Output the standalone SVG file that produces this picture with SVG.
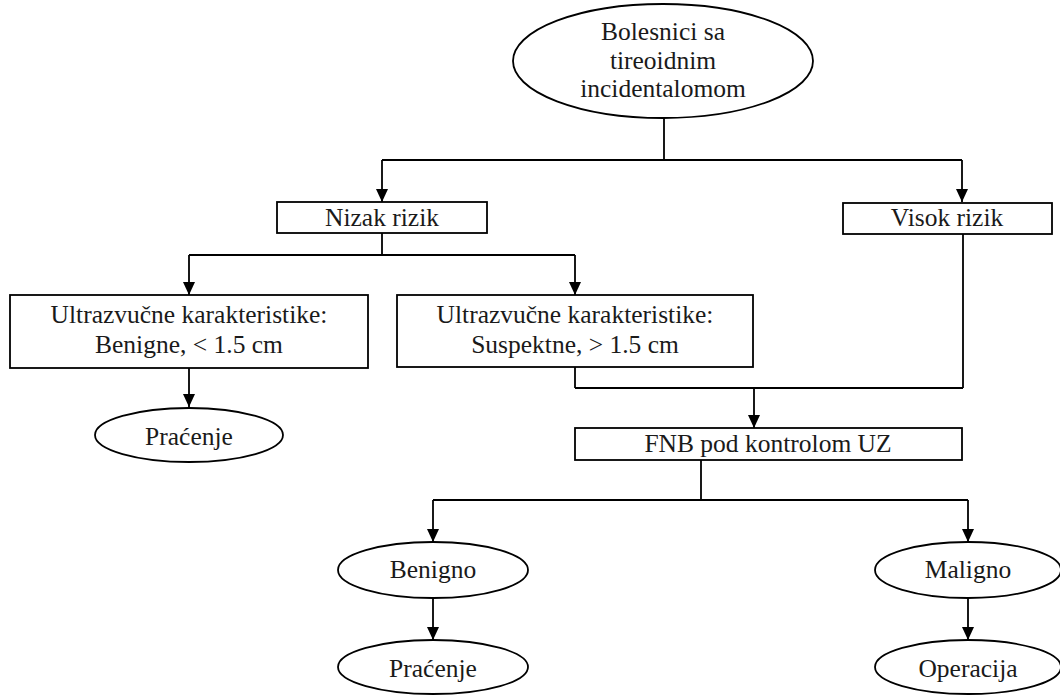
<svg xmlns="http://www.w3.org/2000/svg" width="1060" height="696" viewBox="0 0 1060 696">
<defs>
<marker id="arr" markerWidth="13" markerHeight="12" refX="13" refY="6" orient="auto" markerUnits="userSpaceOnUse" viewBox="0 0 13 12">
<path d="M0,0 L13,6 L0,12 Z" fill="#000"/>
</marker>
<style>
.n{fill:#fff;stroke:#000;stroke-width:1.8}
.t{font-family:"Liberation Serif","Times New Roman",serif;font-size:25.5px;fill:#1a1a1a;text-anchor:middle}
.c{fill:none;stroke:#000;stroke-width:1.8}
.a{fill:none;stroke:#000;stroke-width:1.8}
</style>
</defs>
<rect width="1060" height="696" fill="#fff"/>
<g id="connectors">
<path class="c" d="M664,118 V160 M382,160 H962 M382,233 V255 M189,255 H575 M575,367 V388 M963,234 V388 M575,388 H963 M701,460 V500 M433,500 H968"/>
<path class="a" d="M382,160 V202" marker-end="url(#arr)"/>
<path class="a" d="M962,160 V202" marker-end="url(#arr)"/>
<path class="a" d="M189,255 V295" marker-end="url(#arr)"/>
<path class="a" d="M575,255 V295" marker-end="url(#arr)"/>
<path class="a" d="M189,368 V407" marker-end="url(#arr)"/>
<path class="a" d="M754,388 V428" marker-end="url(#arr)"/>
<path class="a" d="M433,500 V542" marker-end="url(#arr)"/>
<path class="a" d="M968,500 V542" marker-end="url(#arr)"/>
<path class="a" d="M433,598 V640" marker-end="url(#arr)"/>
<path class="a" d="M968,598 V640" marker-end="url(#arr)"/>
</g>
<g id="start">
<ellipse class="n" cx="663" cy="61" rx="150" ry="57"/>
<text class="t" x="663" y="40">Bolesnici sa</text>
<text class="t" x="663" y="68.5">tireoidnim</text>
<text class="t" x="663" y="97">incidentalomom</text>
</g>
<g id="nizak">
<rect class="n" x="277" y="202" width="210" height="31"/>
<text class="t" x="382" y="226">Nizak rizik</text>
</g>
<g id="visok">
<rect class="n" x="843" y="203" width="209" height="31"/>
<text class="t" x="947" y="226">Visok rizik</text>
</g>
<g id="benigne-uz">
<rect class="n" x="10" y="295" width="358" height="73"/>
<text class="t" x="189" y="323">Ultrazvučne karakteristike:</text>
<text class="t" x="189" y="353">Benigne, &lt; 1.5 cm</text>
</g>
<g id="suspektne-uz">
<rect class="n" x="397" y="295" width="356" height="72"/>
<text class="t" x="575" y="323">Ultrazvučne karakteristike:</text>
<text class="t" x="575" y="353">Suspektne, &gt; 1.5 cm</text>
</g>
<g id="pracenje1">
<ellipse class="n" cx="189" cy="435" rx="94" ry="27"/>
<text class="t" x="189" y="445">Praćenje</text>
</g>
<g id="fnb">
<rect class="n" x="575" y="428" width="387" height="32"/>
<text class="t" x="768" y="452">FNB pod kontrolom UZ</text>
</g>
<g id="benigno">
<ellipse class="n" cx="433" cy="570" rx="95" ry="28"/>
<text class="t" x="433" y="578">Benigno</text>
</g>
<g id="maligno">
<ellipse class="n" cx="968" cy="570" rx="93" ry="28"/>
<text class="t" x="968" y="578">Maligno</text>
</g>
<g id="pracenje2">
<ellipse class="n" cx="433" cy="667" rx="95" ry="27"/>
<text class="t" x="433" y="677">Praćenje</text>
</g>
<g id="operacija">
<ellipse class="n" cx="968" cy="667" rx="93" ry="27"/>
<text class="t" x="968" y="677">Operacija</text>
</g>
</svg>
